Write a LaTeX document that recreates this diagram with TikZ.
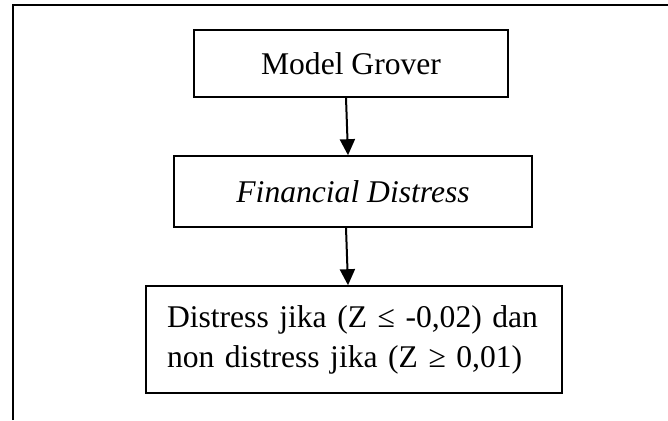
\documentclass[tikz,border=0pt]{standalone}
\usepackage{fontspec}
\setmainfont{Liberation Serif}
\usetikzlibrary{arrows.meta}
\begin{document}
\begin{tikzpicture}[x=1pt,y=-1pt,
  boxnode/.style={draw,line width=1.6pt,inner sep=0pt,font=\fontsize{31.6}{40}\selectfont},
  flowarrow/.style={line width=2pt,-{Triangle[width=15pt,length=16pt]}},
  framestyle/.style={line width=2.4pt}]
\useasboundingbox (0,0) rectangle (668,420);
\draw[framestyle] (13,420) -- (13,5) -- (668,5);
\node[boxnode,minimum width=314pt,minimum height=67pt] (a) at (351,63.5) {Model Grover};
\node[boxnode,minimum width=358pt,minimum height=71pt] (b) at (353,191.5) {\itshape Financial Distress};
\node[boxnode,minimum width=416pt,minimum height=107pt,inner xsep=21pt,text width=374pt,align=left] (c) at (354,339.5)
  {Distress jika (Z ≤ -0,02) dan\\non distress jika (Z ≥ 0,01)};
\draw[flowarrow] ([xshift=-5pt]a.south) -- ([xshift=-5pt]b.north);
\draw[flowarrow] ([xshift=-7pt]b.south) -- ([xshift=-6pt]c.north);
\end{tikzpicture}
\end{document}
